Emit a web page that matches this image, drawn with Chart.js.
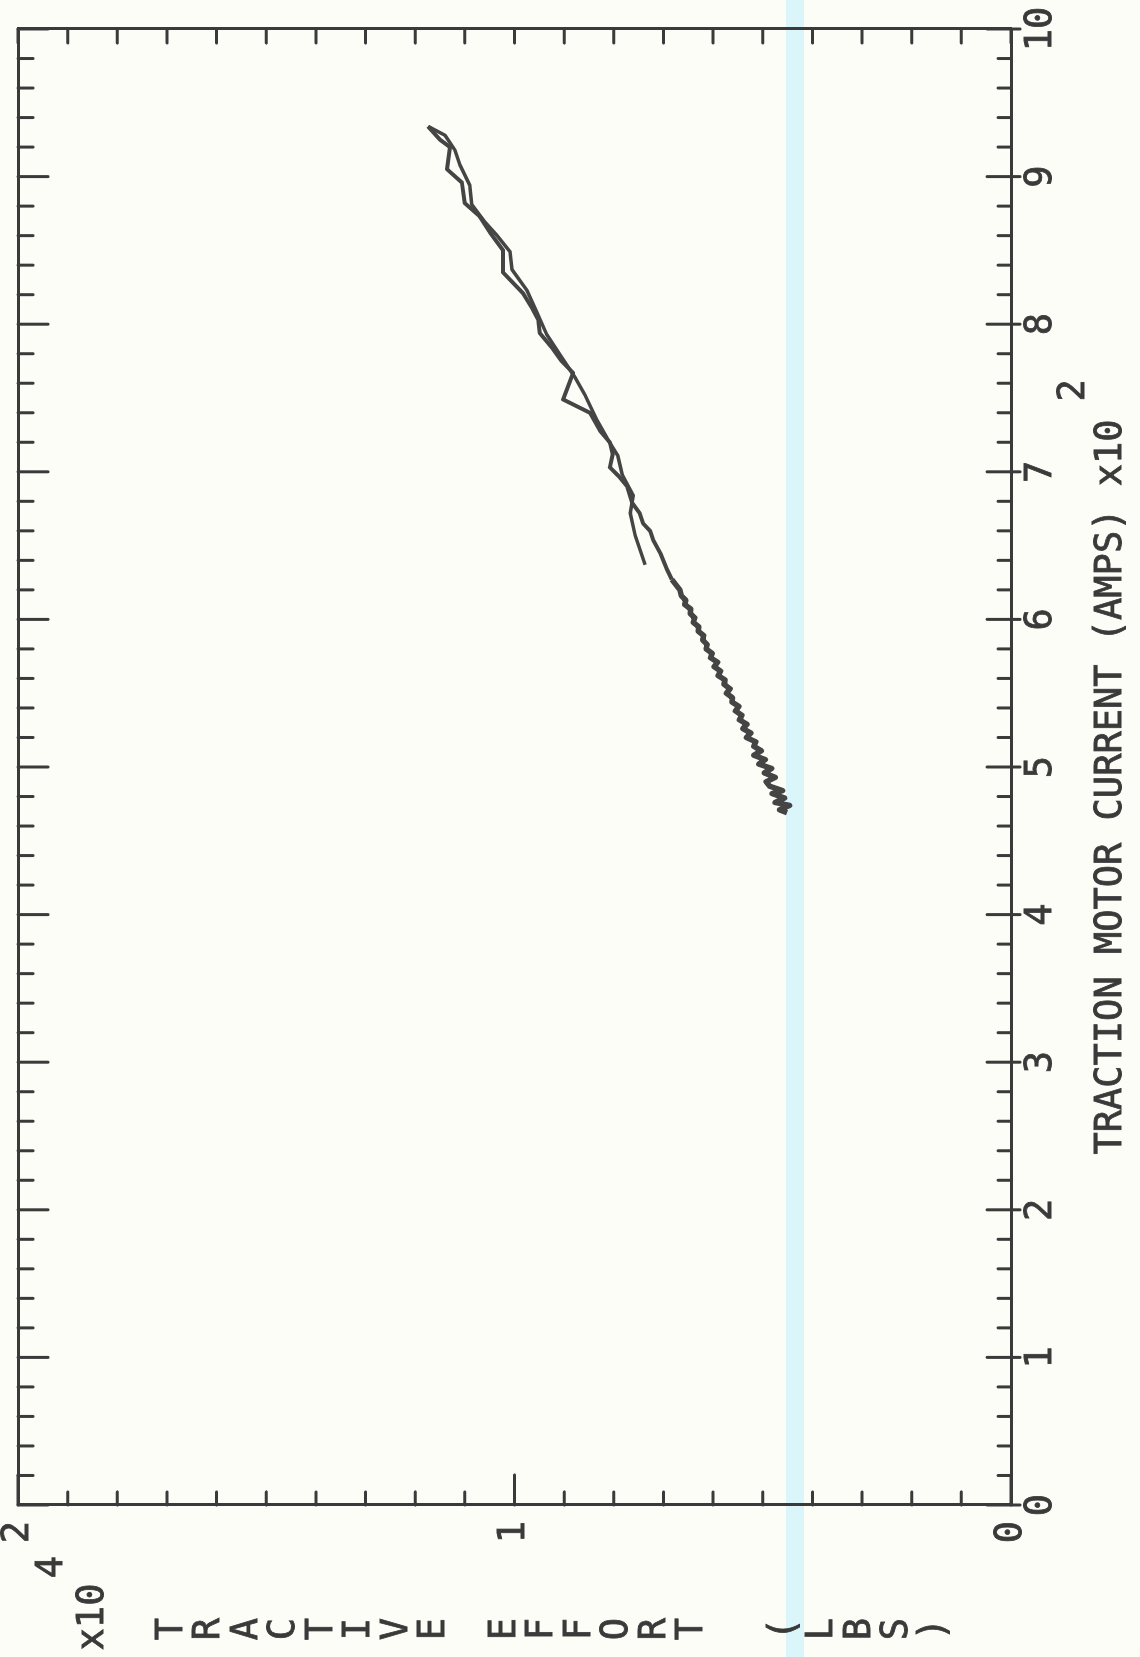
<!DOCTYPE html>
<html><head><meta charset="utf-8">
<script src="https://cdn.jsdelivr.net/npm/chart.js@4.4.1/dist/chart.umd.min.js"></script>
<style>
html,body{margin:0;padding:0;background:#fdfdf8;width:1140px;height:1657px;overflow:hidden;}
#band{position:absolute;left:786px;top:0;width:18px;height:1657px;background:#daf6fa;}
#wrap{position:absolute;left:0;top:0;width:1657px;height:1140px;transform-origin:0 0;transform:translate(0px,1657px) rotate(-90deg);}
canvas{display:block;}
</style></head><body>
<div id="band"></div>
<div id="wrap"><canvas id="c" width="1657" height="1140"></canvas></div>
<script>
// ---- data ----
const currentTicks = [0,1,2,3,4,5,6,7,8,9,10];
const effortTicks = [0,1,2];
const currentMinorStep = 0.2;
const effortMinorStep = 0.1;

const traceUpCurrent = [4.69,4.71,4.74,4.76,4.79,4.82,4.84,4.87,4.90,4.93,4.96,4.99,5.02,5.05,5.08,5.11,5.14,5.17,5.20,5.23,5.26,5.29,
  5.32,5.35,5.38,5.41,5.44,5.47,5.50,5.53,5.56,5.59,5.62,5.65,5.68,5.71,5.74,5.77,
  5.80,5.83,5.86,5.89,5.92,5.95,5.98,6.01,6.04,6.07,6.10,6.13,6.16,6.20,
  6.27,6.34,6.44,6.54,6.60,6.65,6.72,6.79,6.90,6.97,7.03,7.12,7.20,7.28,7.40,7.49,7.67,7.75,7.83,7.94,8.03,8.10,8.21,8.35,8.50,8.62,8.73,8.82,8.96,9.05,9.20,9.25,9.34];
const traceUpEffort = [0.451,0.466,0.446,0.475,0.456,0.481,0.460,0.486,0.493,0.475,0.497,0.482,0.508,0.495,0.518,0.503,0.518,0.514,0.533,0.524,0.540,0.532,
  0.547,0.542,0.555,0.548,0.562,0.561,0.573,0.566,0.578,0.576,0.590,0.585,0.598,0.591,0.605,0.602,
  0.614,0.612,0.621,0.619,0.630,0.629,0.640,0.637,0.646,0.645,0.657,0.655,0.664,0.667,
  0.683,0.693,0.705,0.721,0.727,0.741,0.748,0.763,0.773,0.790,0.808,0.802,0.808,0.828,0.848,0.902,0.882,0.905,0.922,0.949,0.952,0.963,0.983,1.023,1.023,1.049,1.070,1.100,1.106,1.136,1.130,1.150,1.174];
const traceDownCurrent = [9.34,9.28,9.18,9.08,8.94,8.81,8.69,8.60,8.49,8.37,8.23,8.08,7.93,7.79,7.64,7.52,7.35,7.23,7.11,6.98,6.84,6.72,6.57,6.37];
const traceDownEffort = [1.174,1.140,1.120,1.110,1.090,1.086,1.059,1.035,1.009,1.005,0.975,0.955,0.935,0.908,0.878,0.858,0.834,0.814,0.792,0.783,0.761,0.767,0.757,0.737];

const xTitle = 'TRACTION MOTOR CURRENT (AMPS) x10';
const xTitleExp = '2';
const yTitleUnit = 'x10';
const yTitleExp = '4';
const yTitleWords = ['TRACTIVE', 'EFFORT', '(LBS)'];

// ---- style ----
const INK = '#3a3a3a';
const LINE = '#454545';
const FONT = '"DejaVu Sans Mono", "Liberation Mono", monospace';
const FSIZE = 37;
const WORD_START = [172, 505, 785];
const LETTER_PITCH = 37.5;
const DENSE_LIMIT = 6.25;

const toPts = (xs, ys) => xs.map((v, i) => ({x: v, y: ys[i]}));

const tickPlugin = {
  id: 'inTicks',
  afterDraw(chart) {
    const {ctx, chartArea: a, scales: {x, y}} = chart;
    ctx.save();
    ctx.strokeStyle = INK; ctx.lineWidth = 3; ctx.lineCap = 'round';
    const seg = (x1, y1, x2, y2) => { ctx.beginPath(); ctx.moveTo(x1, y1); ctx.lineTo(x2, y2); ctx.stroke(); };
    const nx = Math.round((currentTicks[currentTicks.length-1] - currentTicks[0]) / currentMinorStep);
    for (let i = 0; i <= nx; i++) {
      const v = currentTicks[0] + i * currentMinorStep;
      const major = i % 5 === 0;
      const px = x.getPixelForValue(v);
      seg(px, a.bottom + (major ? 9 : 0), px, a.bottom - (major ? 24 : 13));
      seg(px, a.top, px, a.top + (major ? 30 : 15));
    }
    const ny = Math.round((effortTicks[effortTicks.length-1] - effortTicks[0]) / effortMinorStep);
    for (let i = 0; i <= ny; i++) {
      const v = effortTicks[0] + i * effortMinorStep;
      const major = i % 10 === 0;
      const py = y.getPixelForValue(v);
      seg(a.left, py, a.left + (major ? 30 : 13), py);
      seg(a.right, py, a.right - 14, py);
    }
    ctx.restore();
  }
};

const titlePlugin = {
  id: 'titles',
  afterDraw(chart) {
    const {ctx, chartArea: a} = chart;
    ctx.save();
    ctx.fillStyle = INK; ctx.strokeStyle = INK; ctx.lineWidth = 0.8;
    ctx.font = FSIZE + 'px ' + FONT;
    ctx.textAlign = 'center'; ctx.textBaseline = 'middle';
    const put = (t, x, y) => { ctx.fillText(t, x, y); ctx.strokeText(t, x, y); };
    // current axis title
    const cx = (a.left + a.right) / 2 - 20;
    put(xTitle, cx, a.bottom + 100);
    const w = ctx.measureText(xTitle).width;
    put(xTitleExp, cx + w / 2 + 29, a.bottom + 63);
    // effort axis title (stacked letters)
    put(yTitleUnit, 40, 93);
    put(yTitleExp, 90, 52);
    yTitleWords.forEach((word, wi) => {
      word.split('').forEach((ch, k) => put(ch, 28, WORD_START[wi] + LETTER_PITCH * k));
    });
    ctx.restore();
  }
};

const tickFont = {family: FONT, size: FSIZE};

new Chart(document.getElementById('c'), {
  type: 'scatter',
  data: {
    datasets: [
      {data: toPts(traceUpCurrent, traceUpEffort), showLine: true, borderColor: LINE, borderWidth: 4, pointRadius: 0, tension: 0, borderJoinStyle: 'round',
       segment: {borderWidth: c => (c.p0.parsed.x < DENSE_LIMIT ? 5.5 : 4)}},
      {data: toPts(traceDownCurrent, traceDownEffort), showLine: true, borderColor: LINE, borderWidth: 3.5, pointRadius: 0, tension: 0, borderJoinStyle: 'round'}
    ]
  },
  options: {
    responsive: false, animation: false, devicePixelRatio: 1,
    layout: {padding: 0},
    plugins: {legend: {display: false}, tooltip: {enabled: false}},
    scales: {
      x: {
        type: 'linear', position: 'bottom', min: 0, max: 10,
        afterBuildTicks: s => { s.ticks = currentTicks.map(v => ({value: v})); },
        ticks: {font: tickFont, color: INK, padding: 8, maxRotation: 0, autoSkip: false, textStrokeColor: INK, textStrokeWidth: 0.8},
        grid: {display: false, drawTicks: false},
        border: {display: true, color: INK, width: 3},
        afterFit: s => { s.height = 129; s.paddingLeft = 0; s.paddingRight = 0; }
      },
      y: {
        type: 'linear', position: 'left', min: 0, max: 2,
        afterBuildTicks: s => { s.ticks = effortTicks.map(v => ({value: v})); },
        ticks: {font: tickFont, color: INK, padding: 16, autoSkip: false, textStrokeColor: INK, textStrokeWidth: 0.8},
        grid: {display: false, drawTicks: false},
        border: {display: true, color: INK, width: 3},
        afterFit: s => { s.width = 152; s.paddingTop = 0; s.paddingBottom = 0; }
      },
      x2: {
        type: 'linear', position: 'top', min: 0, max: 10,
        ticks: {display: false}, grid: {display: false, drawTicks: false},
        border: {display: true, color: INK, width: 3},
        afterFit: s => { s.height = 18; s.paddingLeft = 0; s.paddingRight = 0; }
      },
      y2: {
        type: 'linear', position: 'right', min: 0, max: 2,
        ticks: {display: false}, grid: {display: false, drawTicks: false},
        border: {display: true, color: INK, width: 3},
        afterFit: s => { s.width = 29; s.paddingTop = 0; s.paddingBottom = 0; }
      }
    }
  },
  plugins: [tickPlugin, titlePlugin]
});
</script>
</body></html>
